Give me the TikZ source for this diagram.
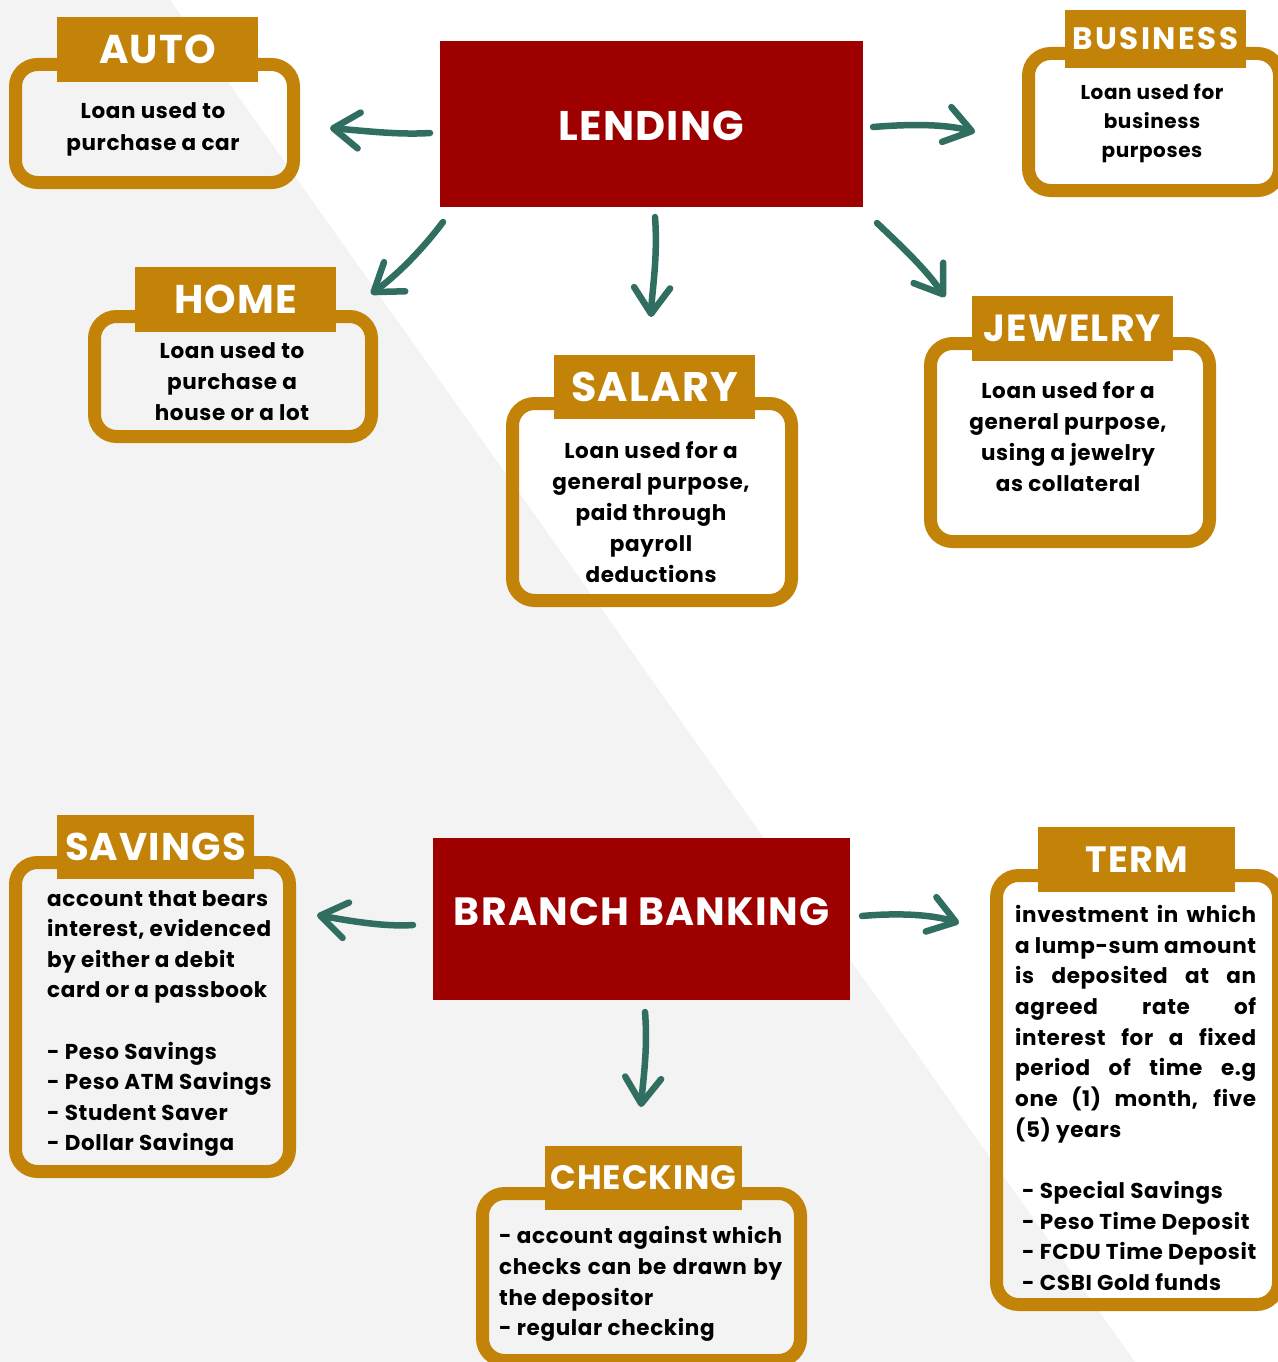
\documentclass[tikz,border=0pt]{standalone}
\usepackage{fontspec}
\setmainfont{Poppins}
\newfontfamily\tracked{Poppins}[LetterSpace=3]
\newfontfamily\trackedwide{Poppins}[LetterSpace=8]
\usetikzlibrary{arrows.meta,calc}
\definecolor{gold}{HTML}{C28308}
\definecolor{boxred}{HTML}{9E0000}
\definecolor{arrowgreen}{HTML}{306E62}
\definecolor{bggray}{HTML}{F3F3F3}
\newcommand\tabfont[1]{\tracked\bfseries\fontsize{#1}{#1}\selectfont}
\newcommand\bodyfont[2]{\tracked\bfseries\fontsize{#1}{#2}\selectfont}
\begin{document}
\begin{tikzpicture}[x=1pt,y=-1pt,
  frame/.style={draw=gold, line width=13pt, rounded corners=22pt, inner sep=0pt},
  tab/.style={fill=gold, text=white, inner sep=0pt},
  headbox/.style={fill=boxred, inner sep=0pt},
  headtext/.style={text=white, inner sep=0pt},
  body/.style={inner sep=0pt, align=center, font=\bodyfont{21.5}{31}},
  listbody/.style={inner sep=0pt, align=left, anchor=west, font=\bodyfont{21.5}{30.67}},
  arr/.style={draw=arrowgreen, line width=6.5pt, line cap=round,
    -{Straight Barb[length=26pt,width=36pt,line width=6.5pt,round]}}]

\useasboundingbox (0,0) rectangle (1277,1362);
\fill[white] (0,0) rectangle (1277,1362);
% diagonal grey backdrop
\fill[bggray] (0,0) -- (170,0) -- (1135,1362) -- (0,1362) -- cycle;

% ---------- LENDING ----------
\node[headbox, minimum width=423pt, minimum height=166pt] (lend) at (651.5,124) {};
\node[headtext, font=\tabfont{41.4}] (lendlbl) at (651.5,126) {LENDING};

% AUTO
\node[frame, minimum width=278pt, minimum height=118pt] (autobox) at (154.5,123.5) {};
\node[tab, minimum width=201pt, minimum height=65pt, font=\tabfont{40.2}] (auto) at (157.5,49.5) {AUTO};
\node[body, font=\bodyfont{21.5}{32.5}] (autotxt) at (153,129.5) {Loan used to\\purchase a car};

% HOME
\node[frame, minimum width=277pt, minimum height=120pt] (homebox) at (233,376.5) {};
\node[tab, minimum width=201pt, minimum height=65pt, font=\tabfont{40.1}] (home) at (235.5,299.5) {HOME};
\node[body] (hometxt) at (232,382) {Loan used to\\purchase a\\house or a lot};

% SALARY
\node[frame, minimum width=279pt, minimum height=197pt] (salarybox) at (652,502) {};
\node[tab, minimum width=201pt, minimum height=64pt, font=\tabfont{41.3}] (salary) at (654.5,387) {SALARY};
\node[body] (salarytxt) at (651,512) {Loan used for a\\general purpose,\\paid through\\payroll\\deductions};

% JEWELRY
\node[frame, minimum width=279pt, minimum height=198pt] (jewelrybox) at (1070,442.5) {};
\node[tab, minimum width=201pt, minimum height=65pt, font=\tabfont{37.8}] (jewelry) at (1072.5,328.5) {JEWELRY};
\node[body] (jewelrytxt) at (1068,436.5) {Loan used for a\\general purpose,\\using a jewelry\\as collateral};

% BUSINESS
\node[frame, minimum width=251pt, minimum height=137pt] (businessbox) at (1154,122) {};
\node[tab, minimum width=181pt, minimum height=58pt, font=\trackedwide\bfseries\fontsize{31}{31}\selectfont] (business) at (1155.5,39) {BUSINESS};
\node[body, font=\bodyfont{20}{29}] (businesstxt) at (1152,123) {Loan used for\\business\\purposes};

% ---------- BRANCH BANKING ----------
\node[headbox, minimum width=417pt, minimum height=162pt] (branch) at (641.5,919) {};
\node[headtext, font=\tabfont{39.4}] (branchlbl) at (641.5,912) {BRANCH BANKING};

% SAVINGS
\node[frame, minimum width=274pt, minimum height=309pt] (savingsbox) at (152.5,1017) {};
\node[tab, minimum width=197pt, minimum height=64pt, font=\tabfont{38.6}] (savings) at (155.5,847) {SAVINGS};
\node[listbody, font=\bodyfont{21.5}{30.6}] (savingstxt) at (47,1023.5)
  {account that bears\\interest, evidenced\\by either a debit\\card or a passbook\\[30.6pt]
   - Peso Savings\\- Peso ATM Savings\\- Student Saver\\- Dollar Savinga};

% TERM
\node[frame, minimum width=282pt, minimum height=429pt] (termbox) at (1137.5,1090) {};
\node[tab, minimum width=197pt, minimum height=65pt, font=\tabfont{36.6}] (term) at (1136.5,859.5) {TERM};
\node[listbody] (termtxt) at (1015,1098)
  {\makebox[241pt][s]{investment in which}\\
   \makebox[241pt][s]{a lump-sum amount}\\
   \makebox[241pt][s]{is deposited at an}\\
   \makebox[241pt][s]{agreed rate of}\\
   \makebox[241pt][s]{interest for a fixed}\\
   \makebox[241pt][s]{period of time e.g}\\
   \makebox[241pt][s]{one (1) month, five}\\
   (5) years\\[30.67pt]
   \hspace*{7pt}- Special Savings\\
   \hspace*{7pt}- Peso Time Deposit\\
   \hspace*{7pt}- FCDU Time Deposit\\
   \hspace*{7pt}- CSBI Gold funds};

% CHECKING
\node[frame, minimum width=318pt, minimum height=167pt] (checkingbox) at (641.5,1277) {};
\node[tab, minimum width=197pt, minimum height=64pt, font=\tabfont{33.8}] (checking) at (643.5,1178) {CHECKING};
\node[listbody] (checkingtxt) at (499,1284)
  {\makebox[283pt][s]{- account against which}\\
   \makebox[283pt][s]{checks can be drawn by}\\
   the depositor\\
   - regular checking};

% ---------- connectors ----------
\coordinate (a1s) at (430,133);  \coordinate (a1e) at (330,128);
\coordinate (a2s) at (443,222);  \coordinate (a2e) at (371,294);
\coordinate (a3s) at (655,217);  \coordinate (a3e) at (651,317);
\coordinate (a4s) at (877,223);  \coordinate (a4e) at (945,297);
\coordinate (a5s) at (873,127);  \coordinate (a5e) at (975,132);
\coordinate (b1s) at (413,925);  \coordinate (b1e) at (317,915);
\coordinate (b2s) at (862,916);  \coordinate (b2e) at (959,923);
\coordinate (b3s) at (645,1012); \coordinate (b3e) at (641,1107);

\draw[arr] (a1s) .. controls (400,135) and (365,131) .. (a1e);
\draw[arr] (a2s) .. controls (422,250) and (397,275) .. (a2e);
\draw[arr] (a3s) .. controls (658,258) and (652,290) .. (a3e);
\draw[arr] (a4s) .. controls (900,245) and (925,268) .. (a4e);
\draw[arr] (a5s) .. controls (910,124) and (945,124) .. (a5e);
\draw[arr] (b1s) .. controls (385,927) and (350,921) .. (b1e);
\draw[arr] (b2s) .. controls (895,913) and (930,914) .. (b2e);
\draw[arr] (b3s) .. controls (648,1050) and (643,1080) .. (b3e);
\end{tikzpicture}
\end{document}
